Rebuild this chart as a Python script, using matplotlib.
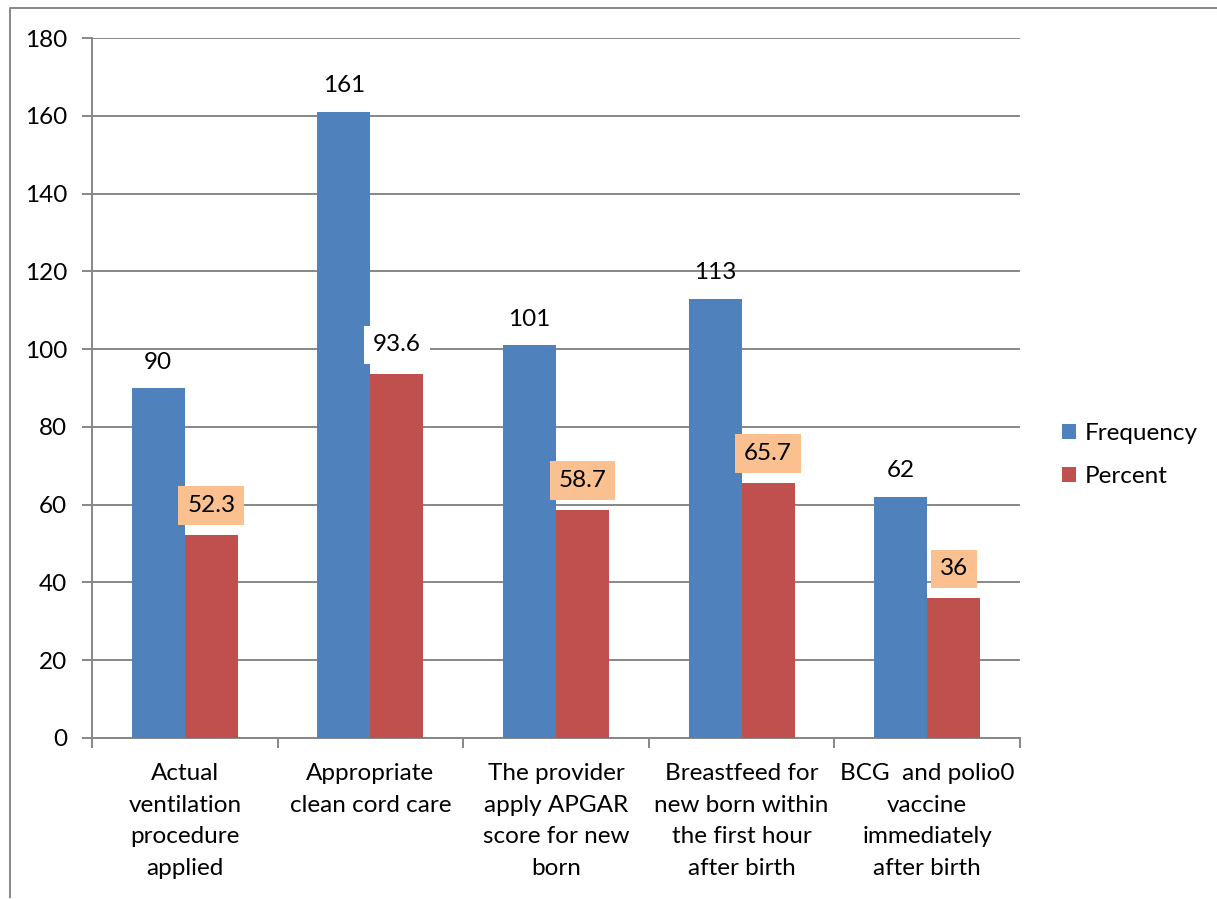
import matplotlib
matplotlib.use("Agg")
import matplotlib.pyplot as plt
from matplotlib.lines import Line2D
import numpy as np

# donnees
categories = [
    "Actual\nventilation\nprocedure\napplied",
    "Appropriate\nclean cord care",
    "The provider\napply APGAR\nscore for new\nborn",
    "Breastfeed for\nnew born within\nthe first hour\nafter birth",
    "BCG  and polio0\nvaccine\nimmediately\nafter birth",
]
frequency = [90, 161, 101, 113, 62]
percent = [52.3, 93.6, 58.7, 65.7, 36]
y_ticks = [0, 20, 40, 60, 80, 100, 120, 140, 160, 180]

BLUE = "#4F81BD"
RED = "#C0504D"
ORANGE = "#FAC090"
GREY = "#878787"

plt.rcParams['font.family'] = ['Lato', 'DejaVu Sans']
FS = 17.5

fig = plt.figure(figsize=(12.17, 8.99), dpi=100)
ax = fig.add_axes([92/1217, 1 - 738/899, (1020 - 92)/1217, (738 - 38)/899])

x = np.arange(len(categories))
w = 0.2856
bars_f = ax.bar(x - w/2, frequency, w, color=BLUE, label="Frequency", zorder=3)
bars_p = ax.bar(x + w/2, percent, w, color=RED, label="Percent", zorder=3)

ax.set_xlim(-0.5, len(categories) - 0.5)
ax.set_ylim(0, 180)
ax.set_yticks(y_ticks)
ax.set_yticklabels([str(v) for v in y_ticks], fontsize=FS)
ax.yaxis.grid(True, color=GREY, linewidth=1.4, zorder=0)
ax.set_axisbelow(True)

# ticks majeurs entre les categories, etiquettes sur les mineurs
ax.set_xticks(np.arange(-0.5, len(categories), 1.0))
ax.set_xticklabels([])
ax.set_xticks(x, minor=True)
ax.set_xticklabels(categories, minor=True, fontsize=FS, linespacing=1.62,
                   ha='center', va='top')
ax.tick_params(axis='x', which='minor', length=0, pad=18)
ax.tick_params(axis='x', which='major', length=7, color=GREY, width=1.4)
ax.tick_params(axis='y', length=7, color=GREY, width=1.4, pad=11)

for s in ['top', 'right']:
    ax.spines[s].set_visible(False)
for s in ['left', 'bottom']:
    ax.spines[s].set_color(GREY)
    ax.spines[s].set_linewidth(1.4)

# etiquettes des valeurs
for b, v in zip(bars_f, frequency):
    ax.annotate(str(v), (b.get_x() + b.get_width()/2, v), xytext=(0, 14),
                textcoords='offset points', ha='center', va='baseline',
                fontsize=FS, zorder=5)
for i, (b, v) in enumerate(zip(bars_p, percent)):
    fc = 'white' if i == 1 else ORANGE
    lab = ("%g" % v)
    ax.annotate(lab, (b.get_x() + b.get_width()/2, v), xytext=(0, 21),
                textcoords='offset points', ha='center', va='center',
                fontsize=FS, zorder=5,
                bbox=dict(boxstyle='square,pad=0.36', fc=fc, ec='none'))

fig.legend(handles=[bars_f, bars_p], labels=["Frequency", "Percent"],
           loc='center left', bbox_to_anchor=(1040/1217, 1 - 455/899),
           frameon=False, fontsize=FS, handlelength=0.6, handleheight=0.6,
           handletextpad=0.35, labelspacing=0.9)

# cadre du graphique
fig.add_artist(Line2D([10/1217, 10/1217, 1.0], [1 - 897/899, 1 - 8/899, 1 - 8/899],
                      transform=fig.transFigure, color=GREY, linewidth=1.4))

fig.savefig("out.png", dpi=100)
